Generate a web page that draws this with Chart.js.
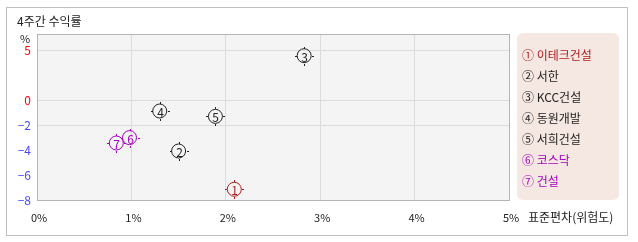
<!DOCTYPE html>
<html>
<head>
<meta charset="utf-8">
<script src="https://cdn.jsdelivr.net/npm/chart.js@4"></script>
<style>
	html, body { margin: 0; padding: 0; background: #fff; }
	#wrap { width: 638px; height: 242px; }
</style>
</head>
<body>
<div id="wrap"><canvas id="chart" width="638" height="242"></canvas></div>
<script>
/* 4주간 수익률 - 위험도 산점도 */

// 종목명
const names = ['이테크건설', '서한', 'KCC건설', '동원개발', '서희건설', '코스닥', '건설'];
const marks = ['①', '②', '③', '④', '⑤', '⑥', '⑦'];
// 표준편차(위험도, %)
const risk = [2.09, 1.50, 2.83, 1.30, 1.89, 0.98, 0.84];
// 4주간 수익률(%)
const returns = [-7.14, -4.08, 4.43, -0.88, -1.31, -3.01, -3.44];
// 눈금
const yTicks = [5, 0, -2, -4, -6, -8];
const yGrid = [5, 0, -2];
const xTicks = [0, 1, 2, 3, 4, 5];

const colors = ['#b01c1c', '#222', '#222', '#222', '#222', '#a400bc', '#a400bc'];

const FONT = "'Noto Sans CJK KR', 'Noto Sans', sans-serif";
Chart.defaults.font.family = FONT;
Chart.defaults.font.size = 11;
Chart.defaults.color = '#222';

// 음수 구간이 더 넓게 그려지는 y축 (0 위: 10px/1, 0 아래: 12.5px/1)
function tf(v) { return v >= 0 ? v : v * 1.25; }
function tfInv(v) { return v >= 0 ? v : v / 1.25; }

class SplitScale extends Chart.LinearScale {
	buildTicks() {
		return yTicks.map(v => ({ value: v }));
	}
	getPixelForValue(v) {
		const a = tf(this.min), b = tf(this.max);
		return this.getPixelForDecimal((tf(v) - a) / (b - a));
	}
	getValueForPixel(p) {
		const a = tf(this.min), b = tf(this.max);
		return tfInv(a + this.getDecimalForPixel(p) * (b - a));
	}
}
SplitScale.id = 'split';
SplitScale.defaults = Chart.LinearScale.defaults;
Chart.register(SplitScale);

// 배경, 테두리, 글자, 범례
const decor = {
	id: 'decor',
	beforeDraw(chart) {
		const ctx = chart.ctx, a = chart.chartArea;
		ctx.save();
		ctx.fillStyle = '#fff';
		ctx.fillRect(0, 0, chart.width, chart.height);
		ctx.strokeStyle = '#c0c0c0';
		ctx.lineWidth = 1;
		ctx.strokeRect(6.5, 7.5, 621, 228);
		ctx.fillStyle = '#f4f4f4';
		ctx.fillRect(a.left, a.top, a.right - a.left, a.bottom - a.top);
		ctx.restore();
	},
	afterDraw(chart) {
		const ctx = chart.ctx, a = chart.chartArea;
		ctx.save();
		// 플롯 테두리
		ctx.strokeStyle = '#b4b4b4';
		ctx.lineWidth = 1;
		ctx.strokeRect(Math.round(a.left) + 0.5, Math.round(a.top) + 0.5,
			Math.round(a.right - a.left), Math.round(a.bottom - a.top));

		ctx.font = '12px ' + FONT;
		ctx.fillStyle = '#222';
		ctx.textBaseline = 'middle';
		ctx.textAlign = 'left';
		ctx.fillText('4주간 수익률', 17, 21);
		ctx.font = '11px ' + FONT;
		ctx.textAlign = 'center';
		ctx.fillText('%', 25, 39);
		ctx.font = '12px ' + FONT;
		ctx.textAlign = 'left';
		ctx.fillText('표준편차(위험도)', a.right + 19, 217);

		// 범례 박스
		const bx = a.right + 8, by = a.top - 1, bw = 102, bh = 167;
		ctx.fillStyle = '#f5e8e2';
		ctx.beginPath();
		ctx.roundRect(bx, by, bw, bh, 6);
		ctx.fill();
		names.forEach((n, i) => {
			ctx.fillStyle = colors[i];
			ctx.fillText(marks[i] + ' ' + n, bx + 5, by + 22 + i * 21);
		});
		ctx.restore();
	},
	afterDatasetsDraw(chart) {
		const ctx = chart.ctx;
		const meta = chart.getDatasetMeta(0);
		ctx.save();
		ctx.font = '12px ' + FONT;
		ctx.textAlign = 'center';
		ctx.textBaseline = 'middle';
		meta.data.forEach((pt, i) => {
			const x = Math.round(pt.x), y = Math.round(pt.y);
			ctx.fillStyle = colors[i];
			// 원 바깥 작은 눈금
			ctx.fillRect(x, y - 9, 1, 2);
			ctx.fillRect(x, y + 8, 1, 2);
			ctx.fillRect(x - 9, y, 2, 1);
			ctx.fillRect(x + 8, y, 2, 1);
			ctx.fillText(String(i + 1), x + 0.5, y + 1);
		});
		ctx.restore();
	}
};

const points = risk.map((r, i) => ({ x: r, y: returns[i] }));

new Chart(document.getElementById('chart'), {
	type: 'scatter',
	data: {
		datasets: [{
			data: points,
			pointRadius: 7,
			pointHoverRadius: 7,
			pointBorderWidth: 1,
			pointBorderColor: colors,
			pointBackgroundColor: 'rgba(0,0,0,0)'
		}]
	},
	options: {
		responsive: false,
		animation: false,
		events: [],
		layout: { padding: { left: 0, right: 129, top: 34, bottom: 0 } },
		plugins: {
			legend: { display: false },
			tooltip: { enabled: false }
		},
		scales: {
			x: {
				type: 'linear',
				min: 0,
				max: 5,
				afterBuildTicks: (s) => { s.ticks = xTicks.map(v => ({ value: v })); },
				afterFit: (s) => { s.height = 42; },
				border: { display: false },
				grid: { color: '#dcdcdc', drawTicks: false },
				ticks: {
					padding: 11,
					labelOffset: 2,
					font: { size: 11 },
					color: '#222',
					callback: (v) => v + '%'
				}
			},
			y: {
				type: 'split',
				min: -8,
				max: 6.6,
				afterFit: (s) => { s.width = 37; },
				border: { display: false },
				grid: {
					drawTicks: false,
					color: (c) => (c.tick && yGrid.includes(c.tick.value)) ? '#dcdcdc' : 'rgba(0,0,0,0)'
				},
				ticks: {
					padding: 6,
					font: { size: 12 },
					color: (c) => c.tick.value >= 0 ? '#f00' : '#4848ff',
					callback: (v) => String(v).replace('-', '\u2212')
				}
			}
		}
	},
	plugins: [decor]
});
</script>
</body>
</html>
